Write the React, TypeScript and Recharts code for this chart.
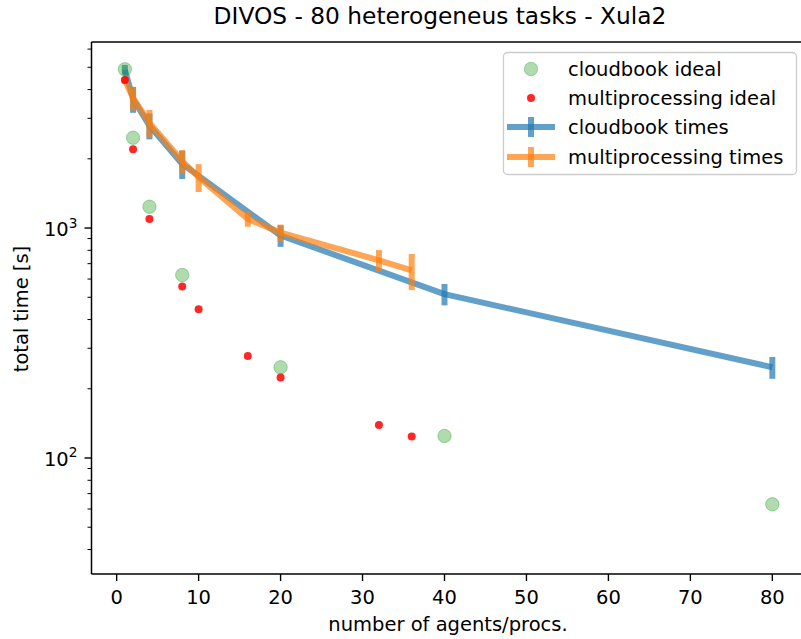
import React from 'react';
import { ComposedChart, Line, Scatter, XAxis, YAxis, ErrorBar, Legend, ReferenceLine } from 'recharts';

// ---- data ----
const cloudbookIdealX = [1, 2, 4, 8, 20, 40, 80];
const cloudbookIdealY = [4900, 2470, 1238, 625, 248, 124.7, 62.9];

const multiIdealX = [1, 2, 4, 8, 10, 16, 20, 32, 36];
const multiIdealY = [4400, 2200, 1095, 557, 444, 278, 224, 139, 124];

const cloudbookTimesX = [1, 2, 4, 8, 20, 40, 80];
const cloudbookTimesY = [4880, 3640, 2790, 1900, 928, 516, 248];
const cloudbookTimesErr = [240, 470, 360, 267, 100, 55, 27];

const multiTimesX = [1, 2, 4, 8, 10, 16, 20, 32, 36];
const multiTimesY = [4400, 3680, 2865, 1956, 1665, 1095, 955, 724, 654];
const multiTimesErr = [150, 430, 395, 227, 231, 82, 80, 78, 117];

const xTicks = [0, 10, 20, 30, 40, 50, 60, 70, 80];
const yMajorTicks = [100, 1000];
const yMajorExponents = ['2', '3'];
const yMinorTicks = [40, 50, 60, 70, 80, 90, 200, 300, 400, 500, 600, 700, 800, 900, 2000, 3000, 4000, 5000, 6000];

const legendLabels = ['cloudbook ideal', 'multiprocessing ideal', 'cloudbook times', 'multiprocessing times'];
const titleText = 'DIVOS - 80 heterogeneus tasks - Xula2';
const xLabelText = 'number of agents/procs.';
const yLabelText = 'total time [s]';

const X_DOMAIN: [number, number] = [-3.07, 83.95];
const Y_DOMAIN: [number, number] = [31.3, 6442];

const zip = (xs: number[], ys: number[], es?: number[]) =>
  xs.map((x, i) => ({ x, y: ys[i], err: es ? es[i] : 0 }));

const cloudbookIdeal = zip(cloudbookIdealX, cloudbookIdealY);
const multiIdeal = zip(multiIdealX, multiIdealY);
const cloudbookTimes = zip(cloudbookTimesX, cloudbookTimesY, cloudbookTimesErr);
const multiTimes = zip(multiTimesX, multiTimesY, multiTimesErr);

const allYTicks = [...yMinorTicks, ...yMajorTicks].sort((a, b) => a - b);

// ---- styling ----
const FONT = "'DejaVu Sans', sans-serif";
const FS = 19.5;
const BLUE = '#1f77b4';
const ORANGE = '#ff7f0e';
const GREEN = '#2ca02c';
const RED = '#ff0000';
const W = 830;
const H = 639;

function XTick(props: any) {
  const { x, y, payload } = props;
  return (
    <g>
      <line x1={x} x2={x} y1={y} y2={y + 7} stroke="#000" strokeWidth={1.4} />
      <text x={x} y={y + 29.5} textAnchor="middle" fontSize={FS} fontFamily={FONT} fill="#000">
        {payload.value}
      </text>
    </g>
  );
}

function YTick(props: any) {
  const { x, y, payload } = props;
  const mi = yMajorTicks.indexOf(payload.value);
  const major = mi >= 0;
  return (
    <g>
      <line x1={x - (major ? 7 : 4)} x2={x} y1={y} y2={y} stroke="#000" strokeWidth={major ? 1.4 : 1} />
      {major && (
        <text x={x - 14} y={y + 8} textAnchor="end" fontSize={FS} fontFamily={FONT} fill="#000">
          10
          <tspan fontSize={13.7} dy={-8.5}>
            {yMajorExponents[mi]}
          </tspan>
        </text>
      )}
    </g>
  );
}

function LegendBox() {
  const rows = [17, 46, 75, 105];
  const hx = 28;
  const tx = 65;
  return (
    <svg width={295} height={124} style={{ display: 'block', overflow: 'visible' }}>
      <rect x={0.5} y={0.5} width={293} height={122} rx={4} fill="#fff" fillOpacity={0.8} stroke="#cccccc" strokeWidth={1.3} />
      <circle cx={hx} cy={rows[0]} r={6.7} fill={GREEN} fillOpacity={0.38} stroke={GREEN} strokeOpacity={0.38} strokeWidth={1} />
      <circle cx={hx} cy={rows[1]} r={4} fill={RED} fillOpacity={0.85} />
      <line x1={hx - 24} x2={hx + 24} y1={rows[2]} y2={rows[2]} stroke={BLUE} strokeOpacity={0.7} strokeWidth={6} />
      <line x1={hx} x2={hx} y1={rows[2] - 10} y2={rows[2] + 10} stroke={BLUE} strokeOpacity={0.7} strokeWidth={6} />
      <line x1={hx - 24} x2={hx + 24} y1={rows[3]} y2={rows[3]} stroke={ORANGE} strokeOpacity={0.7} strokeWidth={6} />
      <line x1={hx} x2={hx} y1={rows[3] - 10} y2={rows[3] + 10} stroke={ORANGE} strokeOpacity={0.7} strokeWidth={6} />
      {legendLabels.map((l, i) => (
        <text key={l} x={tx} y={rows[i] + 7} fontSize={FS} fontFamily={FONT} fill="#000">
          {l}
        </text>
      ))}
    </svg>
  );
}

const greenShape = (p: any) => (
  <circle cx={p.cx} cy={p.cy} r={6.7} fill={GREEN} fillOpacity={0.38} stroke={GREEN} strokeOpacity={0.38} strokeWidth={1} />
);
const redShape = (p: any) => <circle cx={p.cx} cy={p.cy} r={4} fill={RED} fillOpacity={0.85} />;

export default function App() {
  return (
    <div
      style={{
        position: 'absolute',
        left: 0,
        top: 0,
        width: 801,
        height: 639,
        overflow: 'hidden',
        background: '#fff',
        fontFamily: FONT,
      }}
    >
      <ComposedChart width={W} height={H} margin={{ top: 42, right: W - 804.7, bottom: 0, left: 0 }}>
        <XAxis
          dataKey="x"
          type="number"
          domain={X_DOMAIN}
          allowDataOverflow
          ticks={xTicks}
          interval={0}
          height={65}
          tickSize={0}
          tickMargin={0}
          tickLine={false}
          tick={<XTick />}
          axisLine={{ stroke: '#000', strokeWidth: 1.5 }}
        />
        <YAxis
          dataKey="y"
          type="number"
          scale="log"
          domain={Y_DOMAIN}
          allowDataOverflow
          ticks={allYTicks}
          interval={0}
          width={91.5}
          tickSize={0}
          tickMargin={0}
          tickLine={false}
          tick={<YTick />}
          axisLine={{ stroke: '#000', strokeWidth: 1.5 }}
        />
        <ReferenceLine y={Y_DOMAIN[1]} stroke="#000" strokeWidth={1.5} ifOverflow="visible" />
        <Legend
          layout="horizontal"
          verticalAlign="middle"
          align="center"
          content={() => <LegendBox />}
          wrapperStyle={{ position: 'absolute', left: 503, top: 52, width: 295, height: 124 }}
        />
        <Scatter name="cloudbook ideal" data={cloudbookIdeal} dataKey="y" shape={greenShape} isAnimationActive={false} />
        <Scatter name="multiprocessing ideal" data={multiIdeal} dataKey="y" shape={redShape} isAnimationActive={false} />
        <Line
          name="cloudbook times"
          data={cloudbookTimes}
          dataKey="y"
          stroke={BLUE}
          strokeOpacity={0.7}
          strokeWidth={6}
          dot={false}
          activeDot={false}
          strokeLinejoin="round"
          isAnimationActive={false}
        >
          <ErrorBar dataKey="err" direction="y" width={0} stroke={BLUE} strokeWidth={6} strokeOpacity={0.7} isAnimationActive={false} />
        </Line>
        <Line
          name="multiprocessing times"
          data={multiTimes}
          dataKey="y"
          stroke={ORANGE}
          strokeOpacity={0.7}
          strokeWidth={6}
          dot={false}
          activeDot={false}
          strokeLinejoin="round"
          isAnimationActive={false}
        >
          <ErrorBar dataKey="err" direction="y" width={0} stroke={ORANGE} strokeWidth={6} strokeOpacity={0.7} isAnimationActive={false} />
        </Line>
      </ComposedChart>
      <svg
        width={801}
        height={639}
        style={{ position: 'absolute', left: 0, top: 0, pointerEvents: 'none' }}
      >
        <text x={440} y={24} textAnchor="middle" fontSize={23.3} fontFamily={FONT} fill="#000">
          {titleText}
        </text>
        <text x={448} y={631} textAnchor="middle" fontSize={FS} fontFamily={FONT} fill="#000">
          {xLabelText}
        </text>
        <text
          x={0}
          y={0}
          transform="translate(28,309) rotate(-90)"
          textAnchor="middle"
          fontSize={FS}
          fontFamily={FONT}
          fill="#000"
        >
          {yLabelText}
        </text>
      </svg>
    </div>
  );
}
